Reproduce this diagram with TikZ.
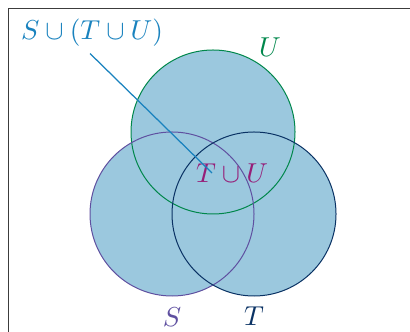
\documentclass[tikz,border=0pt]{standalone}
\usepackage{amsmath}
\usetikzlibrary{positioning}
\definecolor{framegray}{RGB}{60,60,60}
\definecolor{vennfill}{RGB}{155,200,222}
\definecolor{ugreen}{RGB}{0,135,75}
\definecolor{sviolet}{RGB}{95,80,160}
\definecolor{tnavy}{RGB}{10,50,100}
\definecolor{labelblue}{RGB}{25,130,190}
\definecolor{labelplum}{RGB}{150,30,120}

\begin{document}
\begin{tikzpicture}[x=0.4pt,y=0.4pt,font=\fontsize{11}{13}\selectfont]
\clip (0,0) rectangle (410,331);
\draw[framegray, line width=0.5pt] (8.5,-20) -- (8.5,322.5) -- (440,322.5);

\coordinate (cs) at (172,117);
\coordinate (ct) at (254,117);
\coordinate (cu) at (213,199);
\fill[vennfill] (cs) circle (82) (ct) circle (82) (cu) circle (82);
\draw[ugreen, line width=0.4pt] (cu) circle (82);
\draw[sviolet, line width=0.4pt] (cs) circle (82);
\draw[tnavy, line width=0.4pt] (ct) circle (82);

\node[text=ugreen] (lu) at (270,284) {$U$};
\node[text=sviolet] (ls) at (172,14) {$S$};
\node[text=tnavy] (lt) at (254,15) {$T$};
\node[text=labelplum] (ltu) at (232,158) {$T\cup U$};
\node[text=labelblue] (lstu) at (92,298) {$S\cup(T\cup U)$};

\coordinate (mid) at (212,158);
\draw[labelblue, line width=0.5pt] (lstu.south) ++(-2,2) -- (mid);
\end{tikzpicture}
\end{document}
